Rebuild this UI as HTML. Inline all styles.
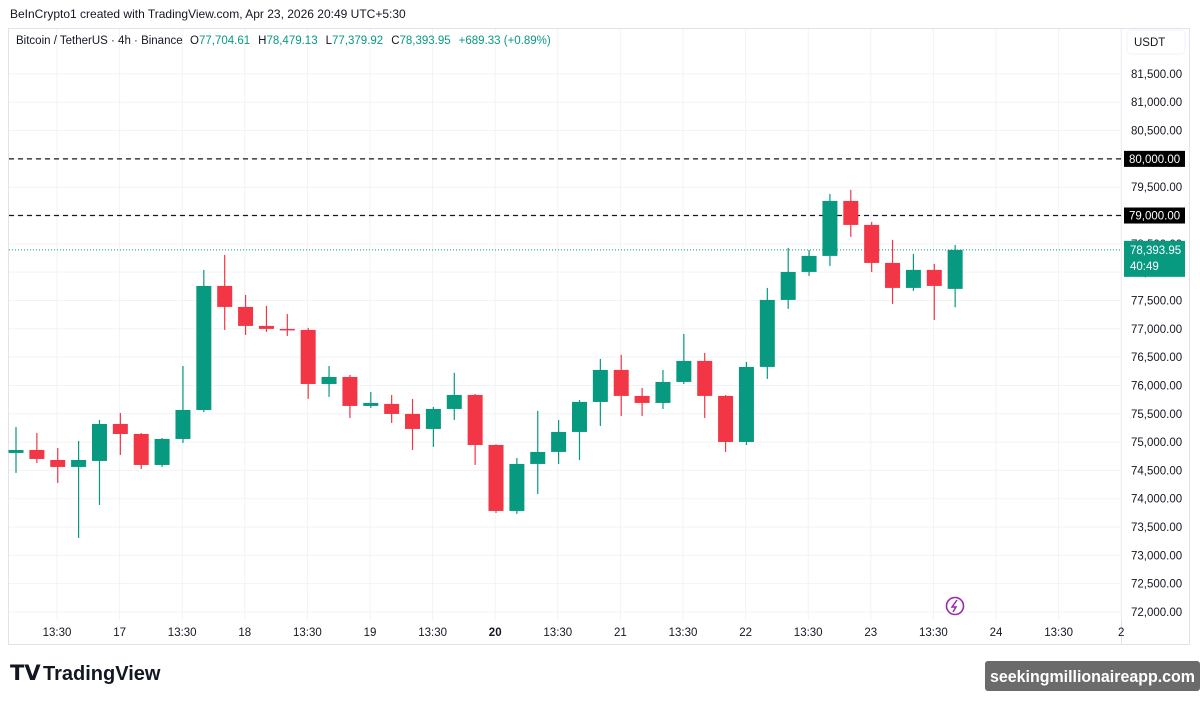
<!DOCTYPE html>
<html><head><meta charset="utf-8">
<style>
body{margin:0;background:#fff;width:1200px;height:701px;overflow:hidden;font-family:"Liberation Sans",sans-serif;}
svg text{font-family:"Liberation Sans","DejaVu Sans",sans-serif;}
</style></head><body>
<svg id="c" width="1200" height="701" xmlns="http://www.w3.org/2000/svg">
<text x="10" y="18" font-size="12" fill="#131722">BeInCrypto1 created with TradingView.com, Apr 23, 2026 20:49 UTC+5:30</text>
<rect x="8.5" y="28.5" width="1181" height="616" fill="none" stroke="#e0e3eb"/>
<line x1="1121.5" y1="28" x2="1121.5" y2="645" stroke="#e0e3eb"/>
<g id="grid"></g>
<g id="marks"></g>
<g id="axes"></g>
<rect x="1127" y="30" width="58" height="24" rx="4" fill="#fff" stroke="#f0f3fa"/>
<text x="1134" y="46" font-size="11.5" fill="#131722">USDT</text>
<text x="16" y="44" font-size="11.5" fill="#131722">Bitcoin / TetherUS · 4h · Binance</text>
<text x="190" y="44" font-size="11.5"><tspan fill="#131722">O</tspan><tspan fill="#089981">77,704.61</tspan><tspan fill="#131722" dx="8">H</tspan><tspan fill="#089981">78,479.13</tspan><tspan fill="#131722" dx="8">L</tspan><tspan fill="#089981">77,379.92</tspan><tspan fill="#131722" dx="8">C</tspan><tspan fill="#089981">78,393.95</tspan><tspan fill="#089981" dx="8">+689.33 (+0.89%)</tspan></text>
<g><circle cx="955" cy="606" r="8.5" fill="#fff" stroke="#9c27b0" stroke-width="1.6"/><path d="M957 600 L952 607 L956 607 L953 612" fill="none" stroke="#9c27b0" stroke-width="1.5"/></g>
<g><text x="10" y="680" font-size="21" font-weight="bold" fill="#131722">𝗧𝗩</text><text x="43" y="680" font-size="20" font-weight="bold" fill="#131722">TradingView</text></g>
<rect x="985" y="661" width="215" height="30" rx="3" fill="#6b6b6b"/>
<text x="990" y="682" font-size="16.5" font-weight="bold" fill="#fff" textLength="205" lengthAdjust="spacingAndGlyphs">seekingmillionaireapp.com</text>
</svg>
<script>
const opens=[74808,74861,74684,74561,74667,75320,75143,74596,75055,75567,77757,77386,77051,76998,76980,76026,76150,75638,75673,75497,75232,75585,75832,74949,73784,74614,74826,75179,75709,76274,75815,75691,76062,76433,75815,75002,76327,77510,78004,78287,79258,78834,78163,77722,78040,77704.61];
const highs=[75267,75161,74896,75020,75391,75514,75160,75073,76344,78040,78305,77598,77404,77263,77016,76344,76185,75885,75832,75762,75620,76221,75850,74960,74720,75550,75391,75744,76468,76539,75956,76274,76909,76574,75830,76415,77722,78428,78393,79382,79453,78887,78570,78322,78146,78479.13];
const lows=[74455,74631,74278,73307,73890,74773,74525,74561,74985,75532,76980,76892,76945,76874,75762,75797,75426,75603,75338,74861,74914,75391,74596,73748,73731,74084,74614,74684,75285,75461,75461,75585,76026,75426,74826,74949,76115,77351,77934,78110,78623,78004,77439,77669,77157,77379.92];
const closes=[74861,74702,74561,74684,75320,75143,74596,75055,75567,77757,77386,77051,76998,76980,76026,76150,75638,75691,75497,75232,75585,75832,74949,73784,74614,74826,75179,75709,76274,75815,75691,76062,76433,75815,75002,76327,77510,78004,78287,79258,78834,78163,77722,78040,77757,78393.95];
const priceTicks=[72000,72500,73000,73500,74000,74500,75000,75500,76000,76500,77000,77500,78000,78500,79000,79500,80000,80500,81000,81500];
const timeLabels=["13:30","17","13:30","18","13:30","19","13:30","20","13:30","21","13:30","22","13:30","23","13:30","24","13:30","2"];
const levels=[80000,79000];
const lastPrice=78393.95;

const NS="http://www.w3.org/2000/svg";
const y=p=>612-(p-72000)/500*28.32;
const x=i=>16+i*20.87;
function mk(t,a,parent){const e=document.createElementNS(NS,t);for(const k in a)e.setAttribute(k,a[k]);parent.appendChild(e);return e;}
const grid=document.getElementById('grid'),marks=document.getElementById('marks'),axes=document.getElementById('axes');
priceTicks.forEach(p=>{
  const l=mk('line',{x1:9,x2:1121,y1:y(p),y2:y(p),stroke:'#f2f3f5'},grid);
  
  
  const t=mk('text',{x:1131,y:y(p)+4,'font-size':11.5,fill:'#131722'},axes);
  t.textContent=p.toLocaleString('en-US',{minimumFractionDigits:2});
  
  
});
timeLabels.forEach((s,k)=>{
  const gx=57+k*62.6;
  const l=mk('line',{x1:gx,x2:gx,y1:29,y2:620,stroke:'#f2f3f5'},grid);
  
  
  const t=mk('text',{x:gx,y:636,'font-size':11.5,fill:'#131722','text-anchor':'middle','font-weight':s==='20'?'bold':'normal'},axes);
  t.textContent=s;
  
  
});
levels.forEach(p=>{
  const l=mk('line',{x1:9,x2:1121,y1:y(p),y2:y(p),stroke:'#131722','stroke-dasharray':'5,4','stroke-width':1.2},marks);
  
  
  const r=mk('rect',{x:1124,y:y(p)-8,width:61,height:16,fill:'#000'},axes);
  
  
  const t=mk('text',{x:1129,y:y(p)+4,'font-size':11.5,fill:'#fff'},axes);
  t.textContent=p.toLocaleString('en-US',{minimumFractionDigits:2});
  
  
});
const pl=mk('line',{x1:9,x2:1121,y1:y(lastPrice),y2:y(lastPrice),stroke:'#089981','stroke-dasharray':'1,2'},marks);


opens.forEach((o,i)=>{
  const c=closes[i],col=c>=o?'#089981':'#f23645';
  const w=mk('line',{x1:x(i),x2:x(i),y1:y(highs[i]),y2:y(lows[i]),stroke:col,'stroke-width':1.2},marks);
  
  
  const top=Math.min(y(o),y(c));
  const b=mk('rect',{x:x(i)-7.5,y:top,width:15,height:Math.max(1.5,Math.abs(y(o)-y(c))),fill:col},marks);
  
  
});
const lb=mk('rect',{x:1124,y:y(lastPrice)-9,width:61,height:36,fill:'#089981'},axes);


const lt=mk('text',{x:1130,y:y(lastPrice)+4,'font-size':11.5,fill:'#fff'},axes);
lt.textContent=lastPrice.toLocaleString('en-US',{minimumFractionDigits:2});


const ct=mk('text',{x:1130,y:y(lastPrice)+20,'font-size':11.5,fill:'#fff'},axes);
ct.textContent='40:49';


</script>
</body></html>
